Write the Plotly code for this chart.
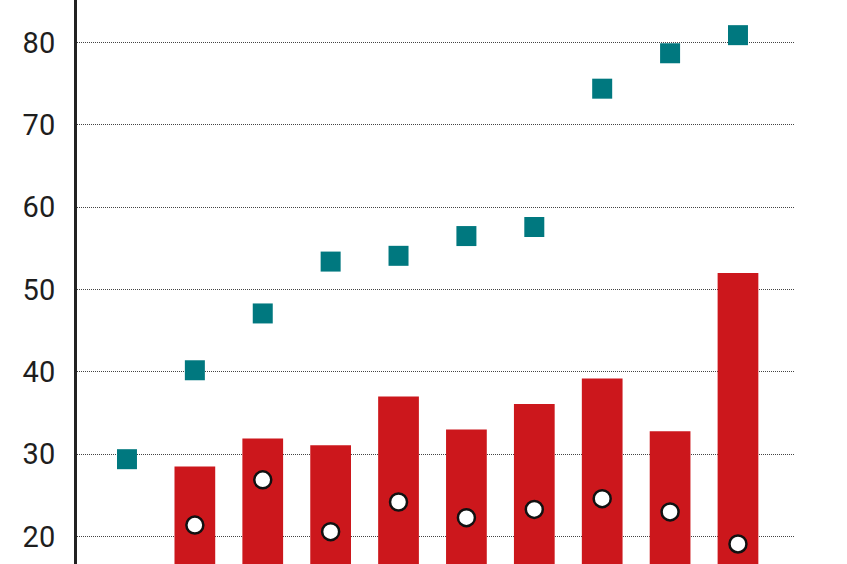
import plotly.graph_objects as go

categories = ["1", "2", "3", "4", "5", "6", "7", "8", "9", "10"]
bar_values = [None, 28.5, 31.9, 31.1, 37.0, 33.0, 36.1, 39.2, 32.8, 52.0]
circle_values = [None, 21.4, 26.9, 20.6, 24.2, 22.3, 23.3, 24.6, 23.0, 19.1]
square_values = [29.4, 40.2, 47.1, 53.4, 54.1, 56.5, 57.6, 74.4, 78.7, 80.9]
y_ticks = [20, 30, 40, 50, 60, 70, 80]

fig = go.Figure()
fig.add_trace(go.Bar(
    x=categories, y=bar_values, width=0.6,
    marker=dict(color="#CC171C", line=dict(width=0)),
    showlegend=False,
))
fig.add_trace(go.Scatter(
    x=categories, y=circle_values, mode="markers",
    marker=dict(symbol="circle", size=17, color="white",
                line=dict(color="#111111", width=2.5)),
    showlegend=False,
))
fig.add_trace(go.Scatter(
    x=categories, y=square_values, mode="markers",
    marker=dict(symbol="square", size=20, color="#00787F",
                line=dict(width=0)),
    showlegend=False,
))

fig.update_layout(
    width=847, height=564,
    margin=dict(l=77, r=52, t=0, b=0),
    paper_bgcolor="white", plot_bgcolor="white",
    bargap=0.4,
    xaxis=dict(type="category", range=[-0.736, 9.84], showticklabels=False,
               showgrid=False, zeroline=False, showline=False, ticks=""),
    yaxis=dict(range=[16.67, 85.17], tickvals=y_ticks, showgrid=True,
               gridcolor="#444444", griddash="1px,1px", gridwidth=1,
               zeroline=False, showline=True, linecolor="#222222", linewidth=3,
               ticks="", ticklabelstandoff=13,
               tickfont=dict(family="Roboto", size=29, color="#1e1e1e")),
)

fig.write_html("out.html", config={"displayModeBar": False},
               post_script="document.body.style.margin='0';")
